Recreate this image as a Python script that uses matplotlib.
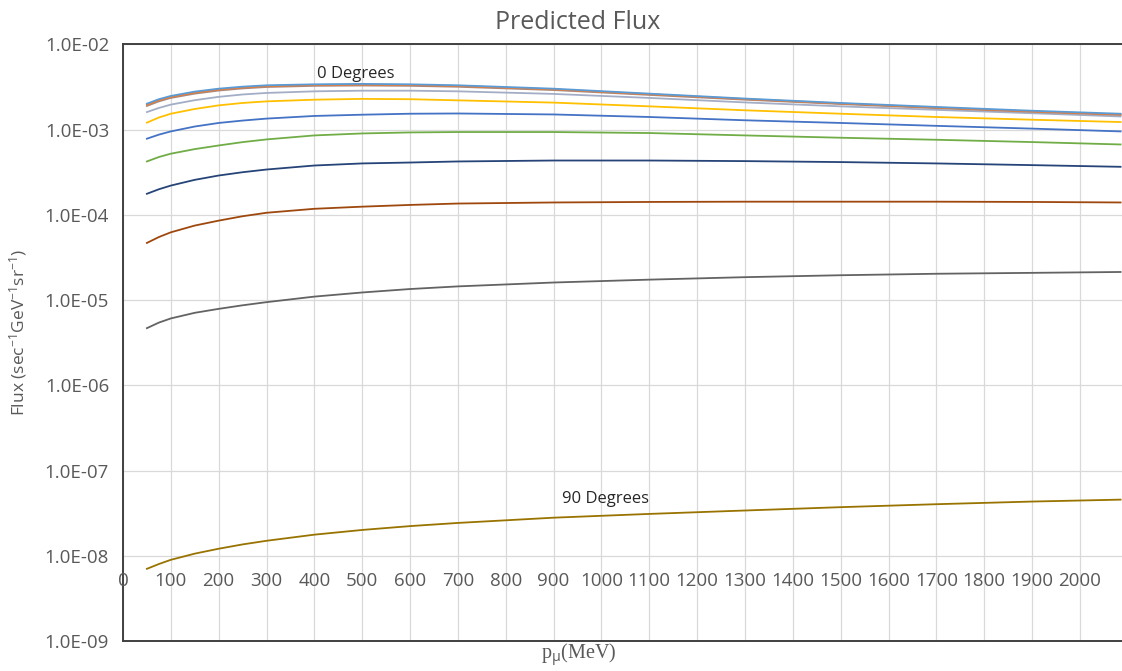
import numpy as np
import matplotlib.pyplot as plt

plt.rcParams['font.family'] = ['Open Sans', 'DejaVu Sans']
plt.rcParams['mathtext.fontset'] = 'custom'
plt.rcParams['mathtext.rm'] = 'Open Sans'
plt.rcParams['mathtext.it'] = 'Open Sans:italic'

# muon momentum (MeV)
p_mev = [50, 75, 100, 150, 200, 250, 300, 400, 500, 600, 700, 900, 1100, 1300, 1500, 1700, 1900, 2085]

# predicted flux, one series per zenith angle (top to bottom)
flux_a = [2.02e-3, 2.28e-3, 2.49e-3, 2.80e-3, 3.03e-3, 3.20e-3, 3.32e-3, 3.41e-3, 3.45e-3, 3.41e-3, 3.32e-3, 3.03e-3, 2.65e-3, 2.32e-3, 2.06e-3, 1.85e-3, 1.67e-3, 1.54e-3]
flux_b = [1.96e-3, 2.22e-3, 2.43e-3, 2.73e-3, 2.96e-3, 3.13e-3, 3.25e-3, 3.35e-3, 3.38e-3, 3.35e-3, 3.26e-3, 2.98e-3, 2.61e-3, 2.29e-3, 2.03e-3, 1.82e-3, 1.64e-3, 1.51e-3]
flux_c = [1.90e-3, 2.15e-3, 2.36e-3, 2.65e-3, 2.88e-3, 3.05e-3, 3.17e-3, 3.27e-3, 3.30e-3, 3.27e-3, 3.19e-3, 2.92e-3, 2.56e-3, 2.25e-3, 2.00e-3, 1.79e-3, 1.62e-3, 1.49e-3]
flux_d = [1.61e-3, 1.80e-3, 1.97e-3, 2.22e-3, 2.43e-3, 2.59e-3, 2.70e-3, 2.82e-3, 2.87e-3, 2.87e-3, 2.82e-3, 2.63e-3, 2.36e-3, 2.09e-3, 1.88e-3, 1.71e-3, 1.56e-3, 1.43e-3]
flux_e = [1.21e-3, 1.39e-3, 1.54e-3, 1.75e-3, 1.93e-3, 2.06e-3, 2.15e-3, 2.25e-3, 2.30e-3, 2.28e-3, 2.21e-3, 2.08e-3, 1.88e-3, 1.69e-3, 1.54e-3, 1.41e-3, 1.31e-3, 1.23e-3]
flux_f = [7.84e-4, 8.75e-4, 9.55e-4, 1.09e-3, 1.20e-3, 1.28e-3, 1.35e-3, 1.45e-3, 1.50e-3, 1.54e-3, 1.55e-3, 1.51e-3, 1.41e-3, 1.29e-3, 1.20e-3, 1.11e-3, 1.03e-3, 9.55e-4]
flux_g = [4.24e-4, 4.78e-4, 5.23e-4, 5.92e-4, 6.53e-4, 7.15e-4, 7.69e-4, 8.57e-4, 9.04e-4, 9.29e-4, 9.39e-4, 9.39e-4, 9.14e-4, 8.57e-4, 8.05e-4, 7.62e-4, 7.16e-4, 6.71e-4]
flux_h = [1.77e-4, 2.00e-4, 2.21e-4, 2.58e-4, 2.90e-4, 3.17e-4, 3.41e-4, 3.80e-4, 4.02e-4, 4.12e-4, 4.24e-4, 4.35e-4, 4.35e-4, 4.28e-4, 4.17e-4, 4.02e-4, 3.84e-4, 3.67e-4]
flux_i = [4.69e-5, 5.50e-5, 6.25e-5, 7.50e-5, 8.57e-5, 9.65e-5, 1.06e-4, 1.18e-4, 1.25e-4, 1.31e-4, 1.36e-4, 1.40e-4, 1.42e-4, 1.43e-4, 1.43e-4, 1.43e-4, 1.42e-4, 1.40e-4]
flux_j = [4.69e-6, 5.45e-6, 6.10e-6, 7.10e-6, 7.90e-6, 8.70e-6, 9.47e-6, 1.10e-5, 1.23e-5, 1.35e-5, 1.45e-5, 1.61e-5, 1.74e-5, 1.86e-5, 1.96e-5, 2.04e-5, 2.09e-5, 2.14e-5]
flux_k = [7.03e-9, 8.00e-9, 8.97e-9, 1.06e-8, 1.21e-8, 1.36e-8, 1.50e-8, 1.77e-8, 2.01e-8, 2.23e-8, 2.43e-8, 2.80e-8, 3.10e-8, 3.40e-8, 3.72e-8, 4.03e-8, 4.33e-8, 4.56e-8]

series = [flux_a, flux_b, flux_c, flux_d, flux_e, flux_f, flux_g, flux_h, flux_i, flux_j, flux_k]
colors = ['#5B9BD5', '#ED7D31', '#A8887E', '#A3AEC6', '#FFC000', '#4472C4',
          '#70AD47', '#264478', '#9E480E', '#636363', '#997300']

x_ticks = list(range(0, 2001, 100))
y_ticks = [1e-9, 1e-8, 1e-7, 1e-6, 1e-5, 1e-4, 1e-3, 1e-2]
y_labels = ['1.0E-09', '1.0E-08', '1.0E-07', '1.0E-06', '1.0E-05', '1.0E-04', '1.0E-03', '1.0E-02']

fig = plt.figure(figsize=(11.22, 6.71), dpi=100)
ax = fig.add_axes([0.1096, 0.0447, 0.8904, 0.889])

# gridlines underneath
ax.set_axisbelow(True)
for flux, c in zip(series[::-1], colors[::-1]):
    ax.plot(p_mev, flux, color=c, linewidth=1.3)

ax.set_yscale('log')
ax.set_xlim(0, 2088)
ax.set_ylim(1e-9, 1e-2)
ax.set_yticks(y_ticks)
ax.set_yticklabels(y_labels)
ax.minorticks_off()
ax.set_xticks(x_ticks)
ax.set_xticklabels([])
ax.tick_params(length=0, labelsize=13.5, labelcolor='#595959', pad=10)
ax.grid(True, color='#D9D9D9', linewidth=0.9)

for s in ['top', 'left', 'bottom']:
    ax.spines[s].set_color('#404040')
    ax.spines[s].set_linewidth(1.4)
ax.spines['right'].set_visible(False)

# x tick labels sit just under the 1E-08 gridline
for xv in x_ticks:
    ax.text(xv, 10 ** -8.294, str(xv), ha='center', va='center',
            fontsize=13.5, color='#595959')

ax.text(487, 10 ** -2.341, '0 Degrees', ha='center', va='center', fontsize=12, color='#262626')
ax.text(1009, 10 ** -7.333, '90 Degrees', ha='center', va='center', fontsize=12, color='#262626')

fig.text(0.515, 0.967, 'Predicted Flux', ha='center', va='center', fontsize=18, color='#595959')
fig.text(0.516, 0.024, r'p$_{\mathrm{μ}}$(MeV)', ha='center', va='center', fontsize=14.5,
         color='#595959', family='Liberation Serif')
fig.text(0.016, 0.505, r'Flux (sec$^{-1}$GeV$^{-1}$sr$^{-1}$)', rotation=90,
         ha='center', va='center', fontsize=12.5, color='#595959')

fig.savefig('out.png', dpi=100)
